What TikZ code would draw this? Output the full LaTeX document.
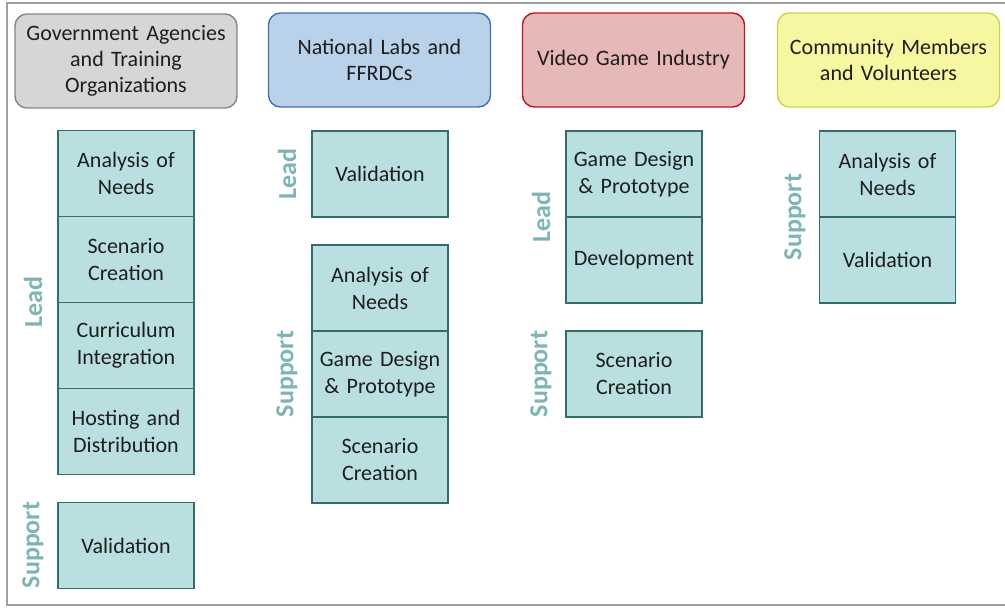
\documentclass[tikz,border=0pt]{standalone}
\usepackage{fontspec}
\setmainfont{Carlito}
\definecolor{framegray}{HTML}{A0A0A0}
\definecolor{govfill}{HTML}{D6D6D6}
\definecolor{govdraw}{HTML}{858585}
\definecolor{natfill}{HTML}{BAD1EA}
\definecolor{natdraw}{HTML}{3C70B0}
\definecolor{vidfill}{HTML}{E6B9B8}
\definecolor{viddraw}{HTML}{C3141E}
\definecolor{comfill}{HTML}{F7F7A2}
\definecolor{comdraw}{HTML}{C6D548}
\definecolor{tealfill}{HTML}{BADFE0}
\definecolor{tealdraw}{HTML}{336E6C}
\definecolor{labelteal}{HTML}{7DB5B5}
\definecolor{txt}{HTML}{1E1E1E}
\tikzset{
  header/.style={draw, line width=1.4pt, rounded corners=12pt, minimum width=222pt, minimum height=94pt,
    align=center, text width=215pt, font=\fontsize{22}{26}\selectfont, text=txt, inner sep=0pt},
  tealbox/.style={draw=tealdraw, fill=tealfill, line width=1.5pt, minimum width=136pt, minimum height=86pt,
    align=center, text width=130pt, font=\fontsize{22}{27}\selectfont, text=txt, inner sep=0pt},
  rolelabel/.style={rotate=90, text=labelteal, font=\fontsize{26}{30}\selectfont\bfseries, inner sep=0pt}
}
\begin{document}
\begin{tikzpicture}[x=1pt,y=-1pt]
\useasboundingbox (0,0) rectangle (1005,609);
% frame
\draw[framegray, line width=1.6pt] (1006,3) -- (7,3) -- (7,605) -- (1006,605);
% headers
\node[header, draw=govdraw, fill=govfill] (h1) at (126,61) {Government Agencies\\and Training\\Organizations};
\node[header, draw=natdraw, fill=natfill] (h2) at (379.5,60) {National Labs and\\FFRDCs};
\node[header, draw=viddraw, fill=vidfill] (h3) at (633.5,60) {Video Game Industry};
\node[header, draw=comdraw, fill=comfill] (h4) at (888.5,60) {Community Members\\and Volunteers};
% Government column
\node[tealbox] (g1) at (126,173.5) {Analysis of\\Needs};
\node[tealbox] (g2) at (126,259.5) {Scenario\\Creation};
\node[tealbox] (g3) at (126,345.5) {Curriculum\\Integration};
\node[tealbox] (g4) at (126,431.5) {Hosting and\\Distribution};
\node[tealbox] (g5) at (126,545.5) {Validation};
\node[rolelabel] (gl) at (33,302) {Lead};
\node[rolelabel] (gs) at (33,545) {Support};
% National column
\node[tealbox] (n1) at (380,174) {Validation};
\node[tealbox] (n2) at (380,288) {Analysis of\\Needs};
\node[tealbox] (n3) at (380,374) {Game Design\\\& Prototype};
\node[tealbox] (n4) at (380,460) {Scenario\\Creation};
\node[rolelabel] (nl) at (287,174) {Lead};
\node[rolelabel] (ns) at (287,374) {Support};
% Video column
\node[tealbox] (v1) at (634,174) {Game Design\\\& Prototype};
\node[tealbox] (v2) at (634,260) {Development};
\node[tealbox] (v3) at (634,374) {Scenario\\Creation};
\node[rolelabel] (vl) at (541,217) {Lead};
\node[rolelabel] (vs) at (541,374) {Support};
% Community column
\node[tealbox] (c1) at (887.5,174) {Analysis of\\Needs};
\node[tealbox] (c2) at (887.5,260) {Validation};
\node[rolelabel] (cs) at (795,217) {Support};
\end{tikzpicture}
\end{document}
